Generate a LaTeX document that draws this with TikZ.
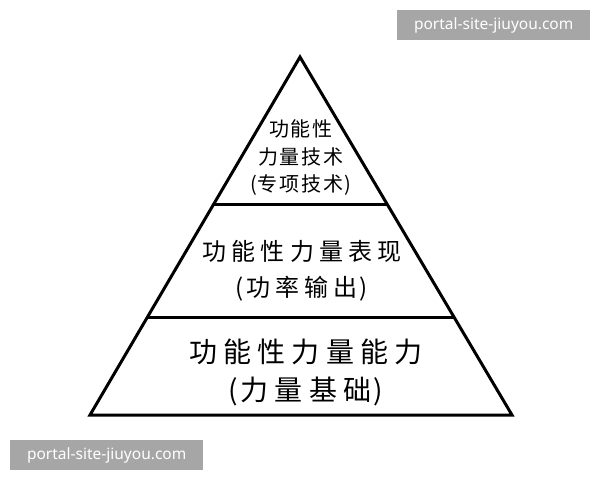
\documentclass[tikz,border=0pt]{standalone}
\usepackage{fontspec}
\newfontfamily\cjkA[LetterSpace=10]{Noto Sans CJK SC}
\newfontfamily\cjkB[LetterSpace=22]{Noto Sans CJK SC}
\newfontfamily\wmfont{Noto Sans}
\definecolor{wmgray}{HTML}{A6A6A6}
\newcommand{\lp}[1]{(\kern#1}
\newcommand{\rp}[1]{\kern#1)}
\tikzset{
  edge/.style={line width=3pt, line join=miter, black},
  tier/.style={align=center, inner sep=0pt, text=black},
  wm/.style={fill=wmgray, text=white, font=\wmfont\fontsize{15.5}{18}\selectfont, inner sep=0pt, minimum height=30pt, anchor=north west}
}
\begin{document}
\begin{tikzpicture}[x=1pt,y=-1pt]
\useasboundingbox[fill=white] (0,0) rectangle (600,480);
\coordinate (apex) at (300,57);
\coordinate (bl) at (90,415);
\coordinate (br) at (512,415);
\coordinate (l1) at (213.8,204);
\coordinate (r1) at (387,204);
\coordinate (l2) at (147.5,317);
\coordinate (r2) at (454,317);
\draw[edge] (apex) -- (br) -- (bl) -- cycle;
\draw[edge] (l1) -- (r1);
\draw[edge] (l2) -- (r2);
\node[tier, font=\cjkA\fontsize{20}{27.5}\selectfont] (top) at (301,158) {功能性\\力量技术\\\lp{0.5pt}专项技术\rp{0.5pt}};
\node[tier, font=\cjkB\fontsize{24}{36}\selectfont] (mid) at (302,271) {功能性力量表现\\\lp{2pt}功率输出\rp{2pt}};
\node[tier, font=\cjkB\fontsize{28}{38}\selectfont] (bot) at (306,372) {功能性力量能力\\\lp{2.5pt}力量基础\rp{2.5pt}};
\node[wm, minimum width=193pt] (wm1) at (397,10) {portal-site-jiuyou.com};
\node[wm, minimum width=193pt] (wm2) at (10,440) {portal-site-jiuyou.com};
\end{tikzpicture}
\end{document}
